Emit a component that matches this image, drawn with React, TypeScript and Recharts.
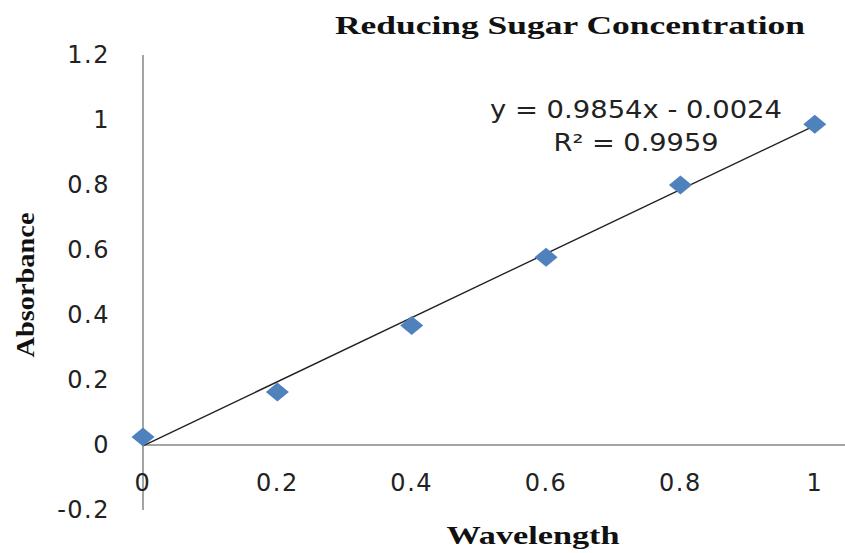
import { ScatterChart, Scatter, XAxis, YAxis, ReferenceLine } from "recharts";

const concentration = [0, 0.2, 0.4, 0.6, 0.8, 1];
const absorbance = [0.025, 0.163, 0.368, 0.578, 0.8, 0.987];
const xTicks = [0, 0.2, 0.4, 0.6, 0.8, 1];
const yTicks = [-0.2, 0, 0.2, 0.4, 0.6, 0.8, 1, 1.2];
// trendline end points, from the printed equation
const trendX = [0, 1];
const trendY = [-0.0024, 0.983];

const points = concentration.map((x, i) => ({ x, y: absorbance[i] }));

const W = 845;
const H = 553;
const axisGray = "#868686";
const tickFont = "'DejaVu Sans', sans-serif";
const serif = "'Liberation Serif', 'Times New Roman', serif";

function Diamond(props: any) {
  const { cx, cy } = props;
  if (cx == null || cy == null) return null;
  return (
    <polygon
      points={`${cx},${cy - 9.5} ${cx + 11.5},${cy} ${cx},${cy + 9.5} ${cx - 11.5},${cy}`}
      fill="#4F81BD"
    />
  );
}

function XTick(props: any) {
  const { x, y, payload } = props;
  return (
    <text
      x={x}
      y={y - 27}
      textAnchor="middle"
      dominantBaseline="central"
      fontFamily={tickFont}
      fontSize={24}
      letterSpacing={1.5}
      fill="#222"
    >
      {payload.value}
    </text>
  );
}

function YTick(props: any) {
  const { x, y, payload } = props;
  return (
    <text
      x={x}
      y={y}
      textAnchor="end"
      dominantBaseline="central"
      fontFamily={tickFont}
      fontSize={24}
      letterSpacing={1.5}
      fill="#222"
    >
      {payload.value}
    </text>
  );
}

export default function App() {
  return (
    <div style={{ position: "absolute", left: 0, top: 0, width: W, height: H, background: "#fff" }}>
      <ScatterChart
        width={W}
        height={H}
        margin={{ top: 55, right: 0, bottom: 13, left: 10 }}
      >
        <XAxis
          type="number"
          dataKey="x"
          domain={[0, 1.045]}
          ticks={xTicks}
          axisLine={false}
          tickLine={false}
          tickSize={0}
          tickMargin={0}
          height={30}
          tick={<XTick />}
        />
        <YAxis
          type="number"
          dataKey="y"
          domain={[-0.2, 1.2]}
          ticks={yTicks}
          width={133}
          axisLine={{ stroke: axisGray, strokeWidth: 1.5 }}
          tickLine={false}
          tickSize={0}
          tickMargin={33}
          tick={<YTick />}
        />
        <ReferenceLine y={0} stroke={axisGray} strokeWidth={1.5} />
        <Scatter data={points} shape={<Diamond />} isAnimationActive={false} />
        <ReferenceLine
          segment={[
            { x: trendX[0], y: trendY[0] },
            { x: trendX[1], y: trendY[1] },
          ]}
          stroke="#222"
          strokeWidth={1.4}
        />
      </ScatterChart>
      <svg
        width={W}
        height={H}
        style={{ position: "absolute", left: 0, top: 0, pointerEvents: "none" }}
      >
        <text
          x={570}
          y={25}
          textAnchor="middle"
          dominantBaseline="central"
          fontFamily={serif}
          fontWeight="bold"
          fontSize={26}
          textLength={470}
          lengthAdjust="spacingAndGlyphs"
          fill="#111"
        >
          Reducing Sugar Concentration
        </text>
        <text
          x={533}
          y={535}
          textAnchor="middle"
          dominantBaseline="central"
          fontFamily={serif}
          fontWeight="bold"
          fontSize={26}
          textLength={173}
          lengthAdjust="spacingAndGlyphs"
          fill="#111"
        >
          Wavelength
        </text>
        <text
          transform="translate(25,285) rotate(-90)"
          textAnchor="middle"
          dominantBaseline="central"
          fontFamily={serif}
          fontWeight="bold"
          fontSize={25}
          textLength={145}
          lengthAdjust="spacingAndGlyphs"
          fill="#111"
        >
          Absorbance
        </text>
        <text
          x={636}
          y={110}
          textAnchor="middle"
          dominantBaseline="central"
          fontFamily={tickFont}
          fontSize={24}
          textLength={292}
          lengthAdjust="spacingAndGlyphs"
          fill="#222"
        >
          y = 0.9854x - 0.0024
        </text>
        <text
          x={636}
          y={143}
          textAnchor="middle"
          dominantBaseline="central"
          fontFamily={tickFont}
          fontSize={24}
          textLength={165}
          lengthAdjust="spacingAndGlyphs"
          fill="#222"
        >
          R² = 0.9959
        </text>
      </svg>
    </div>
  );
}
